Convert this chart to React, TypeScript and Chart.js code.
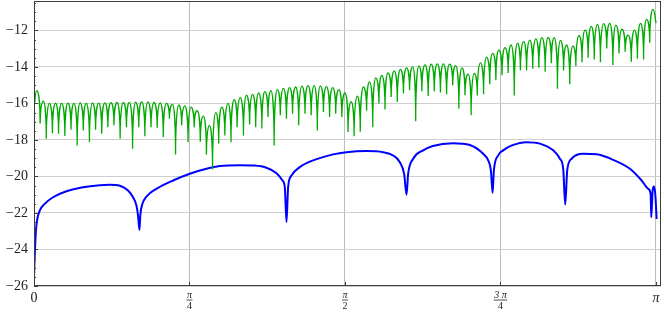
import React, { useEffect, useRef } from "react";
import { Chart, registerables } from "chart.js";

Chart.register(...registerables);

const X_MIN = 0;
const X_MAX = 3.167;
const Y_MIN = -26;
const Y_MAX = -10.39;

const yTickValues = [-26, -24, -22, -20, -18, -16, -14, -12];
const xTickValues = [0, Math.PI / 4, Math.PI / 2, (3 * Math.PI) / 4, Math.PI];
const xTickNumerators = ["0", "π", "π", "3π", "π"];
const xTickDenominators = ["", "4", "2", "4", ""];

// Blue curve samples
const blueX = [0.0, 0.0035, 0.0086, 0.0152, 0.0288, 0.0541, 0.096, 0.1637, 0.2476, 0.332, 0.3825, 0.4331, 0.475, 0.5003, 0.5174, 0.5255, 0.5326, 0.5376, 0.5478, 0.568, 0.6185, 0.7024, 0.7868, 0.8711, 0.9384, 1.0394, 1.1066, 1.1743, 1.2249, 1.2552, 1.2668, 1.2754, 1.2835, 1.3007, 1.3426, 1.4098, 1.5109, 1.5786, 1.6796, 1.7635, 1.814, 1.8479, 1.8696, 1.8817, 1.8898, 1.9151, 1.9656, 2.0146, 2.1157, 2.2016, 2.2688, 2.2941, 2.3077, 2.3163, 2.3229, 2.3446, 2.3699, 2.4138, 2.4881, 2.5553, 2.6225, 2.6564, 2.6731, 2.6832, 2.6933, 2.7155, 2.7741, 2.8418, 2.9257, 3.0101, 3.0692, 3.1026, 3.1147, 3.1177, 3.1248, 3.1314, 3.138, 3.145];
const blueY = [-25.54, -24.43, -23.15, -22.42, -21.87, -21.5, -21.14, -20.81, -20.59, -20.48, -20.46, -20.51, -20.77, -21.14, -21.59, -22.14, -22.93, -22.05, -21.5, -21.1, -20.68, -20.22, -19.85, -19.58, -19.43, -19.38, -19.4, -19.52, -19.82, -20.22, -20.59, -22.5, -20.59, -19.95, -19.49, -19.12, -18.79, -18.67, -18.61, -18.67, -18.85, -19.22, -19.86, -21.0, -19.86, -19.03, -18.57, -18.33, -18.18, -18.28, -18.76, -19.12, -19.67, -20.9, -19.67, -18.85, -18.57, -18.3, -18.12, -18.2, -18.57, -19.03, -19.58, -21.54, -19.67, -19.03, -18.76, -18.79, -19.09, -19.58, -20.22, -20.68, -20.96, -22.24, -20.77, -20.55, -20.96, -22.33];

// Green curve: end points, lobe peaks and dips
const greenEdgeX = [0.002, 3.142];
const greenEdgeY = [-16.05, -11.6];

const greenPeakX = [0.014, 0.047, 0.078, 0.109, 0.14, 0.171, 0.202, 0.233, 0.264, 0.295, 0.327, 0.358, 0.389, 0.42, 0.451, 0.482, 0.513, 0.544, 0.575, 0.607, 0.638, 0.669, 0.7, 0.731, 0.762, 0.793, 0.824, 0.855, 0.886, 0.918, 0.949, 0.98, 1.011, 1.042, 1.073, 1.104, 1.135, 1.166, 1.197, 1.229, 1.26, 1.291, 1.322, 1.353, 1.384, 1.415, 1.446, 1.477, 1.509, 1.54, 1.571, 1.602, 1.633, 1.664, 1.695, 1.726, 1.757, 1.788, 1.82, 1.851, 1.882, 1.913, 1.944, 1.975, 2.006, 2.037, 2.068, 2.099, 2.13, 2.162, 2.193, 2.224, 2.255, 2.286, 2.317, 2.348, 2.379, 2.41, 2.442, 2.473, 2.504, 2.535, 2.566, 2.597, 2.628, 2.659, 2.69, 2.722, 2.753, 2.784, 2.815, 2.846, 2.877, 2.908, 2.939, 2.97, 3.001, 3.033, 3.064, 3.095, 3.126];
const greenPeakY = [-15.3, -15.87, -16.0, -15.98, -16.0, -15.98, -16.0, -15.97, -16.0, -15.97, -15.98, -15.97, -15.96, -15.95, -15.95, -15.94, -15.93, -15.92, -15.92, -15.95, -15.97, -16.0, -16.05, -16.1, -16.13, -16.2, -16.4, -16.7, -17.2, -16.5, -16.2, -16.0, -15.8, -15.68, -15.55, -15.5, -15.42, -15.35, -15.3, -15.24, -15.18, -15.13, -15.1, -15.05, -15.02, -15.02, -15.04, -15.08, -15.13, -15.24, -15.43, -15.9, -15.6, -15.1, -14.82, -14.6, -14.46, -14.33, -14.22, -14.13, -14.05, -14.0, -13.94, -13.89, -13.85, -13.83, -13.83, -13.85, -13.93, -14.05, -14.4, -14.35, -13.78, -13.46, -13.26, -13.08, -12.94, -12.8, -12.7, -12.62, -12.53, -12.46, -12.4, -12.39, -12.4, -12.55, -12.8, -12.86, -12.28, -11.97, -11.78, -11.67, -11.63, -11.62, -11.71, -11.93, -12.26, -11.98, -11.62, -11.4, -10.85];

const greenDipX = [0.031, 0.062, 0.093, 0.124, 0.156, 0.187, 0.218, 0.249, 0.28, 0.311, 0.342, 0.373, 0.404, 0.435, 0.467, 0.498, 0.529, 0.56, 0.591, 0.622, 0.653, 0.684, 0.715, 0.746, 0.778, 0.809, 0.84, 0.871, 0.902, 0.933, 0.964, 0.995, 1.026, 1.058, 1.089, 1.12, 1.151, 1.182, 1.213, 1.244, 1.275, 1.306, 1.337, 1.369, 1.4, 1.431, 1.462, 1.493, 1.524, 1.555, 1.586, 1.617, 1.648, 1.68, 1.711, 1.742, 1.773, 1.804, 1.835, 1.866, 1.897, 1.928, 1.959, 1.991, 2.022, 2.053, 2.084, 2.115, 2.146, 2.177, 2.208, 2.239, 2.271, 2.302, 2.333, 2.364, 2.395, 2.426, 2.457, 2.488, 2.519, 2.55, 2.582, 2.613, 2.644, 2.675, 2.706, 2.737, 2.768, 2.799, 2.83, 2.861, 2.893, 2.924, 2.955, 2.986, 3.017, 3.048, 3.079, 3.11];
const greenDipY = [-17.1, -17.93, -17.63, -17.66, -17.79, -17.44, -18.3, -17.48, -18.12, -17.44, -17.66, -17.3, -17.2, -17.93, -17.3, -18.48, -17.3, -17.8, -17.3, -17.33, -17.84, -16.84, -18.8, -17.2, -18.12, -17.3, -18.1, -18.8, -19.6, -18.2, -17.75, -18.12, -17.3, -17.75, -17.15, -17.3, -17.38, -16.75, -18.3, -16.65, -16.84, -16.56, -17.2, -16.56, -16.65, -17.48, -16.47, -16.75, -16.56, -16.75, -17.57, -17.8, -17.55, -16.4, -17.3, -16.0, -16.33, -15.65, -15.92, -15.46, -15.28, -16.98, -15.35, -15.6, -15.35, -15.4, -15.5, -15.0, -16.29, -15.55, -16.65, -15.56, -15.5, -14.95, -14.73, -14.46, -14.33, -15.56, -14.18, -14.2, -14.1, -14.05, -14.27, -13.8, -15.2, -14.2, -14.95, -13.95, -13.75, -13.5, -13.6, -13.75, -12.99, -13.9, -13.26, -13.17, -13.72, -13.55, -13.6, -12.68];

const BLUE = "#0000ff";
const GREEN = "#00aa00";
const SERIF = "'Liberation Serif', 'DejaVu Serif', serif";

function buildGreen() {
  const pts: { x: number; y: number }[] = [];
  pts.push({ x: greenEdgeX[0], y: greenEdgeY[0] });
  pts.push({ x: greenPeakX[0], y: greenPeakY[0] });
  for (let i = 0; i < greenDipX.length; i++) {
    pts.push({ x: greenDipX[i], y: greenDipY[i] });
    pts.push({ x: greenPeakX[i + 1], y: greenPeakY[i + 1] });
  }
  pts.push({ x: greenEdgeX[1], y: greenEdgeY[1] });
  return pts;
}

function buildBlue() {
  return blueX.map((x, i) => ({ x, y: blueY[i] }));
}

// Arch-shaped interpolation for the lobed series: cusps at the dips, rounded tops at the peaks.
const archPlugin = {
  id: "archCurve",
  beforeDatasetDraw(chart: any, args: any) {
    const ds = chart.data.datasets[args.index];
    if (!ds.arches) return;
    const meta = args.meta;
    const line = meta.dataset;
    if (!line) return;
    line.updateControlPoints(chart.chartArea, "x");
    const pts = meta.data;
    for (let i = 1; i < pts.length - 1; i++) {
      const p = pts[i];
      const prev = pts[i - 1];
      const next = pts[i + 1];
      const isDip = p.y > prev.y && p.y > next.y;
      if (isDip) {
        p.cp1x = p.x;
        p.cp1y = p.y - 0.5 * (p.y - prev.y);
        p.cp2x = p.x;
        p.cp2y = p.y - 0.5 * (p.y - next.y);
      } else {
        p.cp1x = p.x - 0.6 * (p.x - prev.x);
        p.cp1y = p.y;
        p.cp2x = p.x + 0.6 * (next.x - p.x);
        p.cp2y = p.y;
      }
    }
    line._path = undefined;
  },
};

const framePlugin = {
  id: "mmaFrame",
  afterDraw(chart: any) {
    const { ctx, chartArea: a, scales } = chart;
    const xs = scales.x;
    const ys = scales.y;
    ctx.save();
    ctx.strokeStyle = "#3c3c3c";
    ctx.lineWidth = 1;
    ctx.strokeRect(a.left + 0.5, a.top + 0.5, a.right - a.left - 1, a.bottom - a.top - 1);
    ctx.beginPath();
    for (let v = Y_MIN; v <= Y_MAX + 1e-9; v += 0.5) {
      const py = Math.round(ys.getPixelForValue(v)) + 0.5;
      const major = Math.abs(v - Math.round(v / 2) * 2) < 1e-9;
      const len = major ? 4 : 2;
      ctx.moveTo(a.left, py);
      ctx.lineTo(a.left + len, py);
    }
    for (const v of xTickValues) {
      const px = Math.round(xs.getPixelForValue(v)) + 0.5;
      ctx.moveTo(px, a.bottom);
      ctx.lineTo(px, a.bottom - 4);
    }
    ctx.stroke();

    ctx.fillStyle = "#222";
    ctx.textAlign = "center";
    ctx.textBaseline = "middle";
    xTickValues.forEach((v, i) => {
      const px = xs.getPixelForValue(v);
      const num = xTickNumerators[i];
      const den = xTickDenominators[i];
      if (!den) {
        ctx.font = (num === "π" ? "italic " : "") + "14px " + SERIF;
        ctx.fillText(num, px, a.bottom + 12);
      } else {
        const txt = num.length > 1 ? num[0] + " " + num.slice(1) : num;
        ctx.font = "italic 10px " + SERIF;
        ctx.fillText(txt, px, a.bottom + 9);
        const w = ctx.measureText(txt).width;
        ctx.beginPath();
        ctx.strokeStyle = "#222";
        ctx.lineWidth = 0.8;
        ctx.moveTo(px - w / 2 - 0.5, a.bottom + 14);
        ctx.lineTo(px + w / 2 + 0.5, a.bottom + 14);
        ctx.stroke();
        ctx.font = "10px " + SERIF;
        ctx.fillText(den, px, a.bottom + 20);
      }
    });
    ctx.restore();
  },
};

export default function App() {
  const ref = useRef<HTMLCanvasElement | null>(null);
  useEffect(() => {
    document.body.style.margin = "0";
    const canvas = ref.current;
    if (!canvas) return;
    const chart = new Chart(canvas, {
      type: "line",
      data: {
        datasets: [
          {
            label: "green",
            data: buildGreen(),
            borderColor: GREEN,
            borderWidth: 1.3,
            pointRadius: 0,
            tension: 0.3,
            fill: false,
            arches: true,
          },
          {
            label: "blue",
            data: buildBlue(),
            borderColor: BLUE,
            borderWidth: 2,
            pointRadius: 0,
            cubicInterpolationMode: "monotone",
            fill: false,
          },
        ],
      },
      options: {
        animation: false,
        responsive: false,
        maintainAspectRatio: false,
        devicePixelRatio: 1,
        parsing: false,
        normalized: true,
        layout: { padding: { left: 0, right: 3, top: 1, bottom: 0 } },
        plugins: { legend: { display: false }, tooltip: { enabled: false } },
        scales: {
          x: {
            type: "linear",
            min: X_MIN,
            max: X_MAX,
            afterBuildTicks: (s: any) => {
              s.ticks = xTickValues.map((v) => ({ value: v }));
            },
            afterFit: (s: any) => {
              s.height = 26;
              s.paddingLeft = 0;
              s.paddingRight = 0;
              s.paddingTop = 0;
              s.paddingBottom = 0;
            },
            ticks: { display: false },
            grid: { color: "#bdbdbd", lineWidth: 1, drawTicks: false },
            border: { display: false },
          },
          y: {
            type: "linear",
            min: Y_MIN,
            max: Y_MAX,
            afterBuildTicks: (s: any) => {
              s.ticks = yTickValues.map((v) => ({ value: v }));
            },
            afterFit: (s: any) => {
              s.width = 34;
              s.paddingTop = 0;
              s.paddingBottom = 0;
              s.paddingLeft = 0;
              s.paddingRight = 0;
            },
            ticks: {
              padding: 6,
              color: "#222",
              font: { family: SERIF, size: 14 },
              callback: (v: any) => (v < 0 ? "\u2212" + Math.abs(v) : String(v)),
            },
            grid: { color: "#cfcfcf", lineWidth: 1, drawTicks: false },
            border: { display: false },
          },
        },
      },
      plugins: [archPlugin, framePlugin],
    } as any);
    return () => chart.destroy();
  }, []);
  return (
    <div style={{ width: 664, height: 312 }}>
      <canvas ref={ref} width={664} height={312} style={{ display: "block", width: 664, height: 312 }} />
    </div>
  );
}
